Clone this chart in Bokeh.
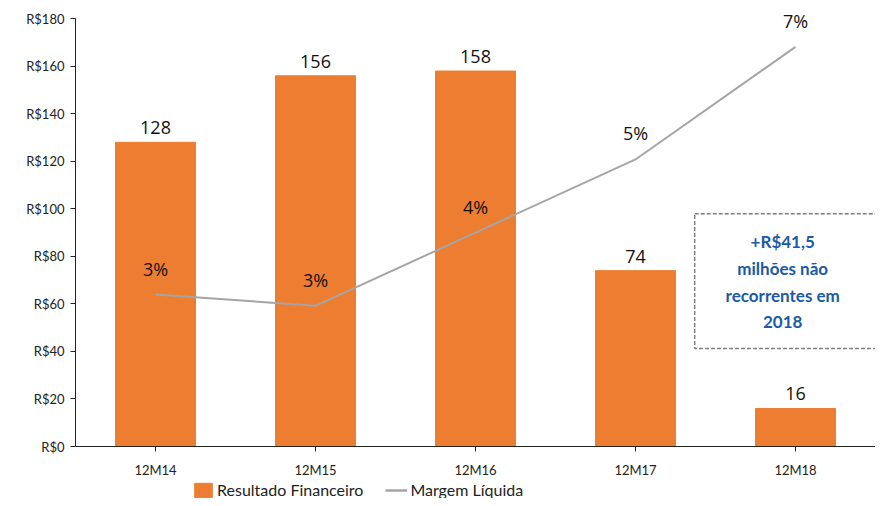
from bokeh.plotting import figure
from bokeh.models import (ColumnDataSource, Range1d, FactorRange, FixedTicker,
                          Legend, LegendItem, BoxAnnotation, Label, LabelSet)
from bokeh.core.properties import value
from bokeh.embed import file_html
from bokeh.resources import INLINE

categories = ["12M14", "12M15", "12M16", "12M17", "12M18"]
resultado = [128, 156, 158, 74, 16]
margem = [2.7, 2.5, 3.8, 5.1, 7.1]
margem_labels = ["3%", "3%", "4%", "5%", "7%"]
y_ticks = [0, 20, 40, 60, 80, 100, 120, 140, 160, 180]
y_tick_labels = ["R$0", "R$20", "R$40", "R$60", "R$80", "R$100", "R$120", "R$140", "R$160", "R$180"]
note_lines = ["+R$41,5", "milhões não", "recorrentes em", "2018"]

ORANGE = "#ED7D31"
GRAY = "#A5A5A5"
BLUE = "#1A5AA6"

src = ColumnDataSource(dict(
    cat=categories, val=resultado, val_lbl=[str(v) for v in resultado],
    m=margem, m_lbl=margem_labels,
))

# y range extends a bit above 180 so the top label is not clipped; axis line stops at 180
p = figure(x_range=FactorRange(*categories, range_padding=0),
           y_range=Range1d(0, 186),
           width=875, height=480, output_backend="svg", toolbar_location=None,
           min_border_left=75, min_border_right=0, min_border_top=4,
           min_border_bottom=30)
p.extra_y_ranges = {"pct": Range1d(0, 7.6 * 186 / 180)}
p.outline_line_color = None
p.xgrid.visible = False
p.ygrid.visible = False

bars = p.vbar(x="cat", top="val", width=0.5, source=src, color=ORANGE)
line = p.line(x="cat", y="m", y_range_name="pct", source=src,
              line_color=GRAY, line_width=2)

p.add_layout(LabelSet(x="cat", y="val", text="val_lbl", source=src, y_offset=8,
                      text_align="center", text_baseline="bottom",
                      text_font=value("Open Sans"), text_font_size="18px",
                      text_color="#111111"))
p.add_layout(LabelSet(x="cat", y="m", text="m_lbl", source=src, y_range_name="pct",
                      y_offset=14, text_align="center", text_baseline="bottom",
                      text_font=value("Open Sans"), text_font_size="18px",
                      text_color="#111111"))

# y axis
p.yaxis.ticker = FixedTicker(ticks=y_ticks)
p.yaxis.bounds = (0, 180)
p.yaxis.major_label_overrides = {t: l for t, l in zip(y_ticks, y_tick_labels)}
p.yaxis.minor_tick_line_color = None
p.yaxis.major_tick_in = 0
p.yaxis.major_tick_out = 5
p.yaxis.axis_line_color = "#222222"
p.yaxis.major_tick_line_color = "#222222"
p.yaxis.major_label_text_font = "Lato"
p.yaxis.major_label_text_font_size = "13px"
p.yaxis.major_label_text_color = "#222222"
p.yaxis.major_label_standoff = 6

# x axis
p.xaxis.major_tick_in = 0
p.xaxis.major_tick_out = 5
p.xaxis.axis_line_color = "#222222"
p.xaxis.major_tick_line_color = "#222222"
p.xaxis.major_label_text_font = "Lato"
p.xaxis.major_label_text_font_size = "13px"
p.xaxis.major_label_text_color = "#222222"
p.xaxis.major_label_standoff = 10

# annotation box
box = BoxAnnotation(left=3.87, right=5.05, bottom=41.2, top=97.9,
                    fill_color=None, fill_alpha=0, line_color="#7F7F7F",
                    line_alpha=1.0, line_width=1.5, line_dash="4 2")
p.add_layout(box)
for i, txt in enumerate(note_lines):
    p.add_layout(Label(x=4.42, y=86.2 - i * 11.3, text=txt, text_align="center",
                       text_baseline="middle", text_font="Lato",
                       text_font_style="bold", text_font_size="17px",
                       text_color=BLUE))

# legend strip below the chart (its glyph renderers sit outside its visible range)
lg = figure(width=875, height=18, x_range=FactorRange(*categories),
            y_range=Range1d(1000, 1001),
            output_backend="svg", toolbar_location=None,
            min_border_left=192, min_border_right=0, min_border_top=0,
            min_border_bottom=0)
lg.axis.visible = False
lg.grid.visible = False
lg.outline_line_color = None
lb = lg.vbar(x="cat", top="val", width=0.5, source=src, color=ORANGE)
ll = lg.line(x="cat", y="m", source=src, line_color=GRAY, line_width=2.5)
legend = Legend(items=[LegendItem(label="Resultado Financeiro", renderers=[lb]),
                       LegendItem(label="Margem Líquida", renderers=[ll])],
                orientation="horizontal", location="top_left",
                label_text_font="Lato", label_text_font_size="16px",
                label_text_color="#222222",
                glyph_width=22, glyph_height=18, label_standoff=3,
                spacing=22, padding=0, margin=0,
                border_line_color=None, background_fill_alpha=0)
lg.add_layout(legend)

open("out.html", "w").write(file_html([p, lg], INLINE))
